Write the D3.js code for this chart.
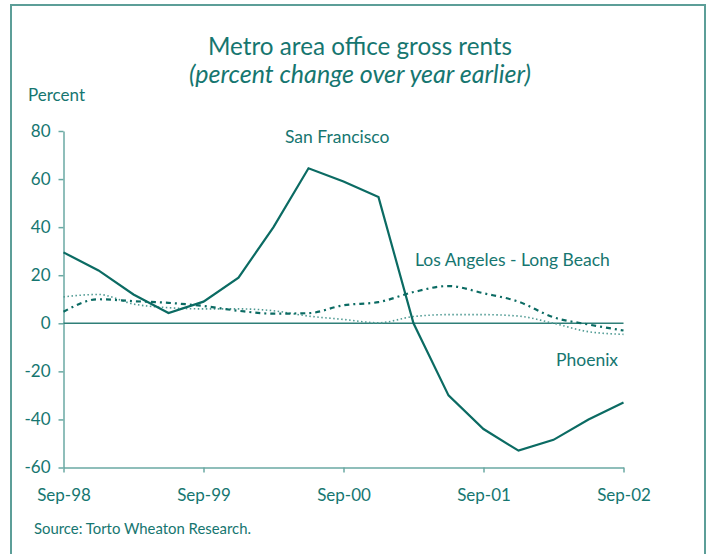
<!DOCTYPE html>
<html>
<head>
<meta charset="utf-8">
<script src="https://cdn.jsdelivr.net/npm/d3@7"></script>
<style>
  body { margin: 0; background: #fff; }
  svg { display: block; }
  text { font-family: Lato, "Open Sans", sans-serif; fill: #167670; }
</style>
</head>
<body>
<svg></svg>
<script>
// quarterly observations, Sep-98 .. Sep-02
const quarters = ["1998Q3", "1998Q4", "1999Q1", "1999Q2", "1999Q3", "1999Q4", "2000Q1", "2000Q2", "2000Q3",
                  "2000Q4", "2001Q1", "2001Q2", "2001Q3", "2001Q4", "2002Q1", "2002Q2", "2002Q3"];
const sanFrancisco = [29.5, 22, 12, 4.3, 9, 19, 40, 64.5, 59, 52.5, 0, -30, -44, -53, -48.5, -40, -33];
const laLongBeach = [4.8, 10, 9.2, 8.5, 7.2, 5.2, 4, 4.2, 7.5, 8.8, 13, 15.5, 12.5, 9, 2.5, -0.5, -3];
const phoenix = [11, 12, 8, 6.5, 6, 6, 5.2, 3, 1.6, 0.2, 2.8, 3.6, 3.6, 3, 0, -3.5, -4.6];
const xTickQuarters = ["1998Q3", "1999Q3", "2000Q3", "2001Q3", "2002Q3"];
const xTickLabels = ["Sep-98", "Sep-99", "Sep-00", "Sep-01", "Sep-02"];
const yTicks = [-60, -40, -20, 0, 20, 40, 60, 80];

const width = 709;
const height = 554;
const dark = "#0b6b63";
const axisColor = "#6aa9a3";

let svg = d3.select("svg")
    .attr("width", width)
    .attr("height", height);

// frame round the whole chart
svg.append("rect")
    .attr("x", 11)
    .attr("y", 5)
    .attr("width", 694)
    .attr("height", 560)
    .attr("fill", "none")
    .attr("stroke", "#5c9e98")
    .attr("stroke-width", 2);

let xScale = d3.scalePoint()
    .domain(quarters)
    .range([63.5, 623.5]);

let yScale = d3.scaleLinear()
    .domain([-60, 80])
    .range([467.5, 131]);

// titles
svg.append("text")
    .attr("x", 360).attr("y", 55)
    .attr("text-anchor", "middle")
    .attr("textLength", 304).attr("lengthAdjust", "spacingAndGlyphs")
    .style("font-size", "25px")
    .text("Metro area office gross rents");

svg.append("text")
    .attr("x", 360).attr("y", 83)
    .attr("text-anchor", "middle")
    .attr("textLength", 342).attr("lengthAdjust", "spacingAndGlyphs")
    .style("font-size", "25px")
    .style("font-style", "italic")
    .text("(percent change over year earlier)");

svg.append("text")
    .attr("x", 28).attr("y", 101)
    .style("font-size", "17px")
    .text("Percent");

// y axis (plain hyphen for negatives, like the original)
let yAxis = d3.axisLeft(yScale)
    .tickValues(yTicks)
    .tickFormat(d => String(d))
    .tickSize(5)
    .tickPadding(8)
    .tickSizeOuter(0);

let gy = svg.append("g")
    .attr("transform", `translate(${xScale(quarters[0])}, 0)`)
    .call(yAxis);
gy.selectAll("path, line").attr("stroke", axisColor).attr("stroke-width", 1.5);
gy.selectAll("text").style("font-size", "17px").attr("fill", "#167670");
gy.attr("font-family", null).attr("font-size", null);

// x axis
let xAxis = d3.axisBottom(xScale)
    .tickValues(xTickQuarters)
    .tickFormat((d, i) => xTickLabels[i])
    .tickSize(5)
    .tickPadding(16)
    .tickSizeOuter(0);

let gx = svg.append("g")
    .attr("transform", `translate(0, ${yScale(-60)})`)
    .call(xAxis);
gx.selectAll("path, line").attr("stroke", axisColor).attr("stroke-width", 1.5);
gx.selectAll("text").style("font-size", "17px").attr("fill", "#167670");
gx.attr("font-family", null).attr("font-size", null);

// zero line
svg.append("line")
    .attr("x1", xScale(quarters[0]))
    .attr("x2", xScale(quarters[quarters.length - 1]))
    .attr("y1", yScale(0))
    .attr("y2", yScale(0))
    .attr("stroke", "#2f7f78")
    .attr("stroke-width", 1.5);

// series
let straight = d3.line()
    .x((d, i) => xScale(quarters[i]))
    .y(d => yScale(d));

let smooth = d3.line()
    .x((d, i) => xScale(quarters[i]))
    .y(d => yScale(d))
    .curve(d3.curveMonotoneX);

svg.append("path")
    .datum(phoenix)
    .attr("d", smooth)
    .attr("fill", "none")
    .attr("stroke", "#4f9a93")
    .attr("stroke-width", 1.6)
    .attr("stroke-dasharray", "1.5,2.5");

svg.append("path")
    .datum(laLongBeach)
    .attr("d", smooth)
    .attr("fill", "none")
    .attr("stroke", dark)
    .attr("stroke-width", 2.2)
    .attr("stroke-dasharray", "5,4,2,4");

svg.append("path")
    .datum(sanFrancisco)
    .attr("d", straight)
    .attr("fill", "none")
    .attr("stroke", dark)
    .attr("stroke-width", 2.2)
    .attr("stroke-linejoin", "miter");

// series labels
svg.append("text")
    .attr("x", 285).attr("y", 143)
    .style("font-size", "17.5px")
    .text("San Francisco");

svg.append("text")
    .attr("x", 415).attr("y", 266)
    .style("font-size", "17.5px")
    .text("Los Angeles - Long Beach");

svg.append("text")
    .attr("x", 556).attr("y", 366)
    .style("font-size", "17.5px")
    .text("Phoenix");

// source
svg.append("text")
    .attr("x", 34).attr("y", 534)
    .attr("textLength", 217).attr("lengthAdjust", "spacingAndGlyphs")
    .style("font-size", "15px")
    .text("Source: Torto Wheaton Research.");
</script>
</body>
</html>
